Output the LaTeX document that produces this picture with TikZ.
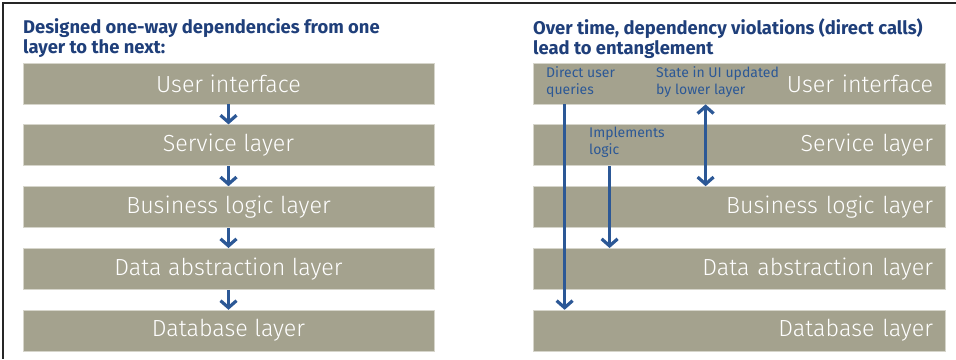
\documentclass[tikz,border=0pt]{standalone}
\usepackage{fontspec}
\setmainfont{Fira Sans}
\newfontfamily\thinfont{Fira Sans Light}
\usetikzlibrary{positioning}
\usetikzlibrary{arrows.meta}
\definecolor{layerfill}{HTML}{A4A28E}
\definecolor{layeredge}{HTML}{D6D5CB}
\definecolor{headblue}{HTML}{1F3F7A}
\definecolor{flowblue}{HTML}{2C5896}
\tikzset{layer/.style={fill=layerfill, draw=layeredge, line width=0.8pt,
minimum width=411pt, minimum height=41pt, inner sep=0pt, text=white,
font=\thinfont\fontsize{23.3}{27}\selectfont},
rlayer/.style={layer, minimum width=0pt, text width=388pt, inner xsep=12pt, align=right},
heading/.style={anchor=north west, inner sep=0pt, align=left, text=headblue,
font=\bfseries\fontsize{18.4}{20.5}\selectfont},
note/.style={anchor=north west, inner sep=0pt, align=left, text=flowblue,
font=\fontsize{14}{17}\selectfont},
flow/.style={draw=flowblue, line width=3.2pt, -{Straight Barb[length=7pt, width=16pt]}},
twoway/.style={flow, {Straight Barb[length=7pt, width=16pt]}-{Straight Barb[length=7pt, width=16pt]}}}

\begin{document}
\begin{tikzpicture}[x=1pt, y=-1pt, node distance=20pt]
	\useasboundingbox (0,0) rectangle (956,359);
	\draw[line width=1.5pt, black!85] (956,3) -| (3,359);

	\node[heading] (lhead) at (23,18) {Designed one-way dependencies from one\\layer to the next:};
	\node[heading] (rhead) at (533,18) {Over time, dependency violations (direct calls)\\lead to entanglement};

	\node[layer] (ui) at (228.5,83.5) {User interface};
	\node[layer, below=of ui] (svc) {Service layer};
	\node[layer, below=of svc] (biz) {Business logic layer};
	\node[layer, below=of biz] (dal) {Data abstraction layer};
	\node[layer, below=of dal] (db) {Database layer};

	\draw[flow] (ui) -- (svc);
	\draw[flow] (svc) -- (biz);
	\draw[flow] (biz) -- (dal);
	\draw[flow] (dal) -- (db);

	\node[rlayer] (rui) at (739,83.5) {User interface};
	\node[rlayer, below=of rui] (rsvc) {Service layer};
	\node[rlayer, below=of rsvc] (rbiz) {Business logic layer};
	\node[rlayer, below=of rbiz] (rdal) {Data abstraction layer};
	\node[rlayer, below=of rdal] (rdb) {Database layer};

	\node[note] (queries) at (546,66) {Direct user\\queries};
	\node[note] (stateui) at (656,66) {State in UI updated\\by lower layer};
	\node[note] (implogic) at (589,127) {Implements\\logic};

	\draw[flow] ([xshift=32pt]rui.south west) -- ([xshift=32pt]rdb.north west);
	\draw[flow] ([xshift=77pt]rsvc.south west) -- ([xshift=77pt]rdal.north west);
	\draw[twoway] ([xshift=173pt]rui.south west) -- ([xshift=173pt]rbiz.north west);
\end{tikzpicture}
\end{document}
